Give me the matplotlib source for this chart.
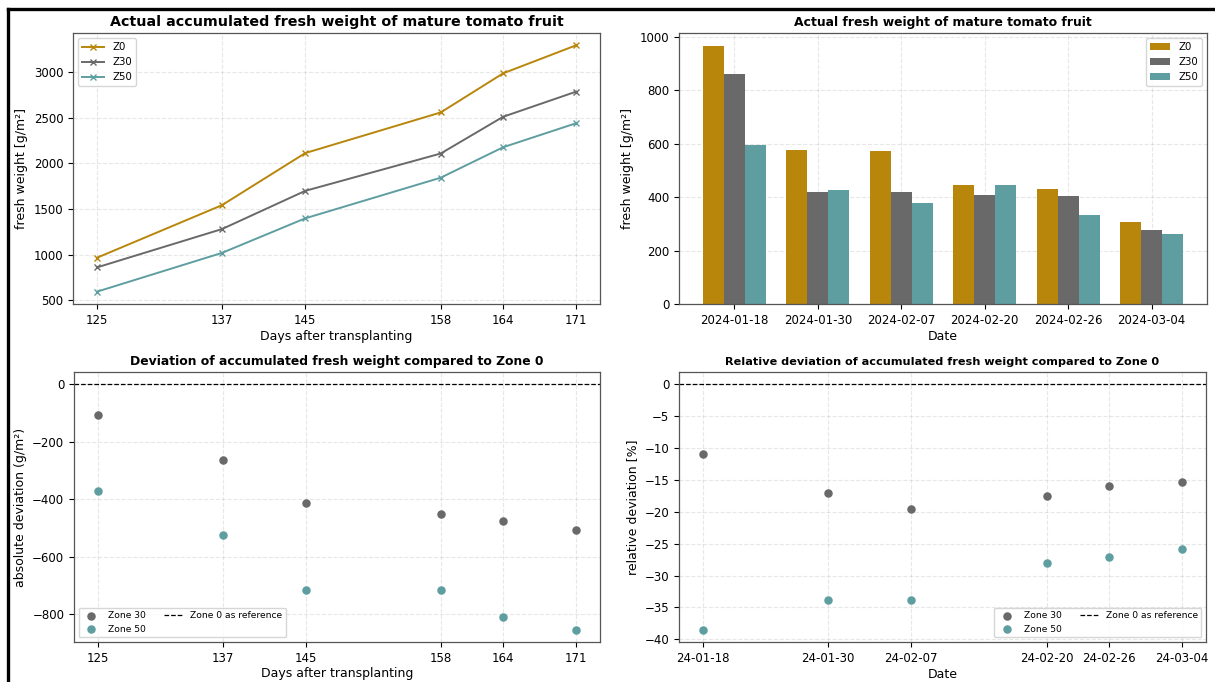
import matplotlib
matplotlib.use("Agg")
import matplotlib.pyplot as plt
import matplotlib.dates as mdates
from matplotlib.lines import Line2D
import numpy as np
import datetime as dt

# ---------------- data ----------------
days = [125, 137, 145, 158, 164, 171]
date_labels = ["2024-01-18", "2024-01-30", "2024-02-07", "2024-02-20", "2024-02-26", "2024-03-04"]

# accumulated fresh weight [g/m²]
acc_z0 = [965, 1541, 2112, 2557, 2986, 3293]
acc_z30 = [859, 1279, 1698, 2107, 2510, 2785]
acc_z50 = [593, 1018, 1397, 1842, 2176, 2439]

# fresh weight per harvest [g/m²]
fw_z0 = [965, 576, 571, 445, 429, 307]
fw_z30 = [859, 420, 419, 409, 403, 275]
fw_z50 = [593, 425, 379, 445, 334, 263]

# absolute deviation vs zone 0 [g/m²]
abs_z30 = [-106, -262, -414, -450, -476, -508]
abs_z50 = [-372, -523, -715, -715, -810, -854]

# relative deviation vs zone 0 [%]
rel_z30 = [-11.0, -17.0, -19.6, -17.6, -15.9, -15.4]
rel_z50 = [-38.5, -33.9, -33.9, -28.0, -27.1, -25.9]

C0 = "#B8860B"
C30 = "#696969"
C50 = "#5F9EA0"

TICK_FS = 8.5
LAB_FS = 9

fig = plt.figure(figsize=(12.15, 6.82), dpi=100)
W, H = 1215, 682

def add_ax(l, t, r, b):
    return fig.add_axes([l / W, 1 - b / H, (r - l) / W, (b - t) / H])

ax1 = add_ax(73, 33, 600, 304)
ax2 = add_ax(679, 33, 1207, 304)
ax3 = add_ax(74, 372, 600, 642)
ax4 = add_ax(679, 372, 1206, 642)

def style(ax):
    ax.grid(True, linestyle="--", alpha=0.3)
    ax.tick_params(labelsize=TICK_FS, length=3.5, width=0.8)
    for s in ax.spines.values():
        s.set_color("#555555")
        s.set_linewidth(0.9)
    ax.set_axisbelow(True)

# ---- top-left: accumulated line chart
ax1.plot(days, acc_z0, marker="x", color=C0, label="Z0", lw=1.4, ms=5)
ax1.plot(days, acc_z30, marker="x", color=C30, label="Z30", lw=1.4, ms=5)
ax1.plot(days, acc_z50, marker="x", color=C50, label="Z50", lw=1.4, ms=5)
ax1.set_xticks(days)
ax1.set_xlabel("Days after transplanting", fontsize=LAB_FS, labelpad=2)
ax1.set_ylabel("fresh weight [g/m²]", fontsize=LAB_FS)
ax1.set_title("Actual accumulated fresh weight of mature tomato fruit", fontsize=10.3, fontweight="bold", pad=5)
ax1.legend(loc="upper left", fontsize=7.3, handlelength=2.2)
style(ax1)

# ---- top-right: bar chart
x = np.arange(len(date_labels))
bw = 0.25
ax2.bar(x - bw, fw_z0, bw, color=C0, label="Z0")
ax2.bar(x, fw_z30, bw, color=C30, label="Z30")
ax2.bar(x + bw, fw_z50, bw, color=C50, label="Z50")
ax2.set_xticks(x)
ax2.set_xticklabels(date_labels)
ax2.set_xlabel("Date", fontsize=LAB_FS, labelpad=2)
ax2.set_ylabel("fresh weight [g/m²]", fontsize=LAB_FS)
ax2.set_title("Actual fresh weight of mature tomato fruit", fontsize=8.9, fontweight="bold", pad=5)
ax2.legend(loc="upper right", fontsize=7.3)
style(ax2)

# ---- bottom-left: absolute deviation
ref3 = ax3.axhline(0, color="black", linestyle="--", lw=0.9, label="Zone 0 as reference")
s30 = ax3.scatter(days, abs_z30, color=C30, s=26, label="Zone 30")
s50 = ax3.scatter(days, abs_z50, color=C50, s=26, label="Zone 50")
ax3.set_xticks(days)
ax3.set_xlabel("Days after transplanting", fontsize=LAB_FS, labelpad=2)
ax3.set_ylabel("absolute deviation (g/m²)", fontsize=LAB_FS)
ax3.set_title("Deviation of accumulated fresh weight compared to Zone 0", fontsize=8.9, fontweight="bold", pad=5)
ax3.legend(handles=[s30, s50, ref3], loc="lower left", ncol=2, fontsize=6.6)
style(ax3)

# ---- bottom-right: relative deviation
dates = [dt.datetime.strptime(d, "%Y-%m-%d") for d in date_labels]
ref4 = ax4.axhline(0, color="black", linestyle="--", lw=0.9, label="Zone 0 as reference")
r30 = ax4.scatter(dates, rel_z30, color=C30, s=26, label="Zone 30")
r50 = ax4.scatter(dates, rel_z50, color=C50, s=26, label="Zone 50")
ax4.set_xticks(dates)
ax4.xaxis.set_major_formatter(mdates.DateFormatter("%y-%m-%d"))
ax4.set_xlabel("Date", fontsize=LAB_FS, labelpad=2)
ax4.set_ylabel("relative deviation [%]", fontsize=LAB_FS)
ax4.set_title("Relative deviation of accumulated fresh weight compared to Zone 0", fontsize=8.1, fontweight="bold", pad=5)
ax4.legend(handles=[r30, r50, ref4], loc="lower right", ncol=2, fontsize=6.6)
style(ax4)

# figure frame (cropped at right/bottom)
fig.add_artist(Line2D([7.5 / W, 7.5 / W], [-0.1, 1 - 8.5 / H], color="black", lw=2.4, transform=fig.transFigure))
fig.add_artist(Line2D([7.5 / W, 1.1], [1 - 8.5 / H, 1 - 8.5 / H], color="black", lw=2.4, transform=fig.transFigure))

fig.savefig("out.png", dpi=100)
